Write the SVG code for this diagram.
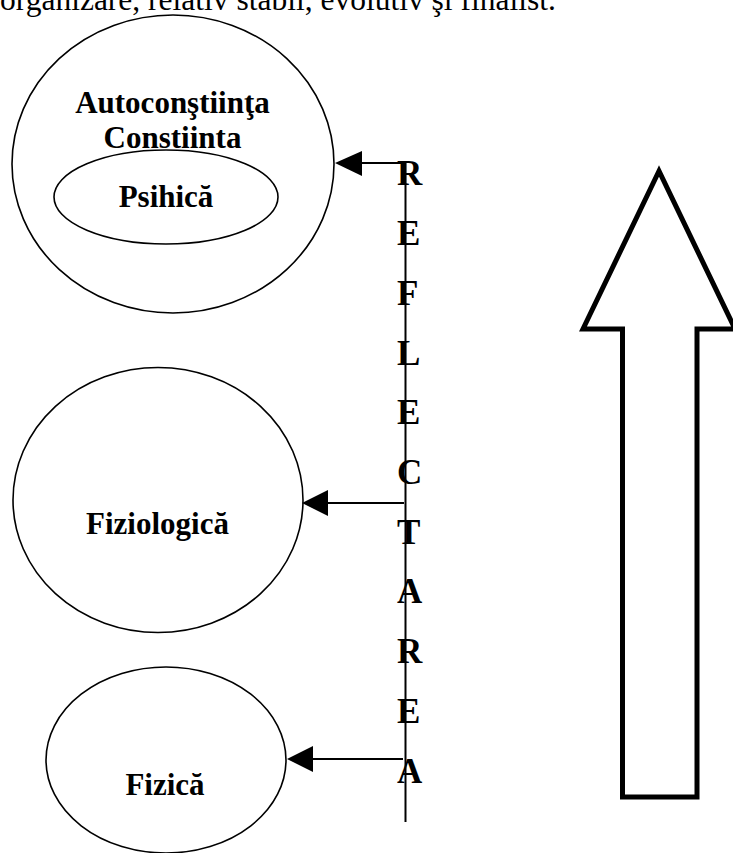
<svg xmlns="http://www.w3.org/2000/svg" width="733" height="853" viewBox="0 0 733 853">
  <style>
    .node { fill: #fff; stroke: #000; stroke-width: 1.6; }
    .lbl { font-family: "Liberation Serif", "Times New Roman", serif; font-weight: bold; font-size: 31px; fill: #000; text-anchor: middle; }
    .letter { font-family: "Liberation Serif", "Times New Roman", serif; font-weight: bold; font-size: 35px; fill: #000; }
    .conn { stroke: #000; stroke-width: 2; fill: none; }
    .head { fill: #000; stroke: none; }
    .top { font-family: "Liberation Serif", "Times New Roman", serif; font-size: 31.5px; fill: #000; }
  </style>
  <defs>
    <clipPath id="clipC">
      <rect x="0" y="100" width="400" height="48"/>
    </clipPath>
  </defs>
  <rect x="0" y="0" width="733" height="853" fill="#fff"/>
  <text class="top" x="0" y="10">organizare, relativ stabil, evolutiv şi finalist.</text>

  <g id="node-psihica">
    <ellipse class="node" cx="173" cy="164" rx="161" ry="149"/>
    <text class="lbl" x="172.5" y="113">Autoconştiinţa</text>
    <text class="lbl" x="172.5" y="148" clip-path="url(#clipC)">Constiinta</text>
    <ellipse class="node" cx="166" cy="197" rx="112" ry="47"/>
    <text class="lbl" x="166" y="207">Psihică</text>
  </g>

  <g id="node-fiziologica">
    <ellipse class="node" cx="158" cy="500" rx="145" ry="132.5"/>
    <text class="lbl" x="157.5" y="534">Fiziologică</text>
  </g>

  <g id="node-fizica">
    <ellipse class="node" cx="166" cy="760" rx="120" ry="93"/>
    <text class="lbl" x="165" y="795">Fizică</text>
  </g>

  <g id="label-reflectarea">
    <text class="letter" x="397" y="185">R</text>
    <text class="letter" x="397" y="245">E</text>
    <text class="letter" x="397" y="305">F</text>
    <text class="letter" x="397" y="365">L</text>
    <text class="letter" x="397" y="424">E</text>
    <text class="letter" x="397" y="484">C</text>
    <text class="letter" x="397" y="544">T</text>
    <text class="letter" x="397" y="603">A</text>
    <text class="letter" x="397" y="663">R</text>
    <text class="letter" x="397" y="723">E</text>
    <text class="letter" x="397" y="783">A</text>
  </g>

  <g id="connectors">
    <line class="conn" x1="405.5" y1="163" x2="405.5" y2="822"/>
    <line class="conn" x1="404" y1="163" x2="360" y2="163"/>
    <polygon class="head" points="335,163 362,151 362,176"/>
    <line class="conn" x1="404" y1="503" x2="326" y2="503"/>
    <polygon class="head" points="302,503 328,490 328,516"/>
    <line class="conn" x1="403" y1="759" x2="311" y2="759"/>
    <polygon class="head" points="287,759 313,746 313,772"/>
  </g>

  <g id="big-arrow">
    <polygon points="659,171 583,329 622.5,329 622.5,797 697,797 697,329 735,329" fill="#fff" stroke="#000" stroke-width="5" stroke-linejoin="miter"/>
  </g>
</svg>
